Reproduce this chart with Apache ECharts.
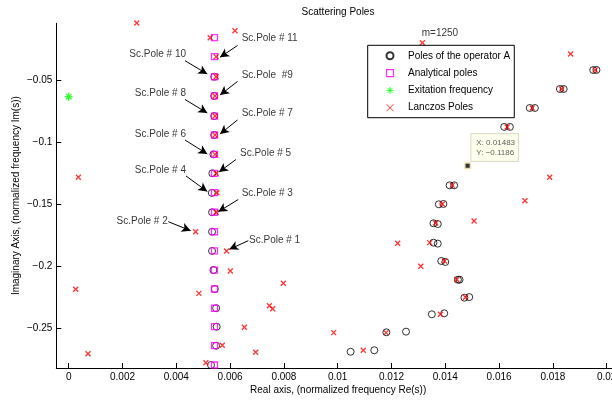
<!DOCTYPE html>
<html><head><meta charset="utf-8">
<script src="https://cdn.jsdelivr.net/npm/echarts@6/dist/echarts.min.js"></script>
<style>html,body{margin:0;padding:0;background:#fff}#c{width:612px;height:400px}</style>
</head><body><div id="c"></div>
<script>
const FONT = '"Liberation Sans", Arial, Helvetica, sans-serif';

// axis ticks
const xTicks = [0, 0.002, 0.004, 0.006, 0.008, 0.01, 0.012, 0.014, 0.016, 0.018, 0.02];
const yTicks = [-0.25, -0.2, -0.15, -0.1, -0.05];

// Poles of the operator A (black circles)
const poleAX = [0.00541, 0.00541, 0.00541, 0.00541, 0.00538, 0.00534, 0.00532, 0.00533, 0.00533, 0.00533, 0.00538, 0.00543, 0.00548, 0.00550, 0.00548, 0.00529,
  0.01950, 0.01962, 0.01826, 0.01840, 0.01714, 0.01733, 0.01619, 0.01640, 0.01416, 0.01433, 0.01376, 0.01393, 0.01356, 0.01372, 0.01356, 0.01372,
  0.01385, 0.01400, 0.01447, 0.01453, 0.01471, 0.01489, 0.01350, 0.01396, 0.01181, 0.01254, 0.01048, 0.01136];
const poleAY = [-0.0468, -0.0623, -0.0785, -0.0938, -0.1094, -0.1247, -0.1405, -0.1561, -0.1718, -0.1873, -0.2027, -0.2180, -0.2335, -0.2484, -0.2637, -0.2793,
  -0.0414, -0.0413, -0.0567, -0.0567, -0.0720, -0.0720, -0.0873, -0.0873, -0.1344, -0.1344, -0.1497, -0.1494, -0.1650, -0.1656, -0.1806, -0.1814,
  -0.1954, -0.1962, -0.2105, -0.2105, -0.2250, -0.2245, -0.2384, -0.2376, -0.2529, -0.2524, -0.2686, -0.2674];

// Analytical poles (magenta squares)
const analX = [0.00542, 0.00542, 0.00542, 0.00542, 0.00542, 0.00542, 0.00542, 0.00542, 0.00542, 0.00542, 0.00542, 0.00542, 0.00542, 0.00542, 0.00542, 0.00542, 0.00542, 0.00542];
const analY = [-0.0153, -0.0306, -0.0468, -0.0623, -0.0785, -0.0938, -0.1094, -0.1247, -0.1403, -0.1561, -0.1718, -0.1873, -0.2027, -0.2180, -0.2335, -0.2484, -0.2637, -0.2793];

// Excitation frequency
const excX = [0];
const excY = [-0.0629];

// Lanczos poles (red x)
const lanX = [0.00253, 0.00618, 0.00526, 0.01315, 0.00548, 0.00548, 0.00544, 0.00544, 0.00544, 0.00544, 0.00548, 0.00551, 0.00548,
  0.00472, 0.00587, 0.00601, 0.00026, 0.00484, 0.00798, 0.00746, 0.00758, 0.00653, 0.00571, 0.00695, 0.00072, 0.00510, 0.00036,
  0.01866, 0.01957, 0.01833, 0.01723, 0.01630, 0.01788, 0.01696, 0.01507, 0.01426, 0.01389, 0.01364, 0.01223, 0.01342, 0.01309,
  0.01397, 0.01443, 0.01475, 0.01382, 0.00985, 0.01180, 0.01095];
const lanY = [-0.0035, -0.0097, -0.0153, -0.0194, -0.0306, -0.0468, -0.0623, -0.0785, -0.0938, -0.1094, -0.1247, -0.1403, -0.1561,
  -0.1718, -0.1873, -0.2035, -0.2182, -0.2215, -0.2134, -0.2315, -0.2339, -0.2489, -0.2634, -0.2690, -0.2702, -0.2774, -0.1279,
  -0.0285, -0.0414, -0.0567, -0.0720, -0.0873, -0.1279, -0.1468, -0.1631, -0.1344, -0.1494, -0.1647, -0.1811, -0.1806, -0.1997,
  -0.1954, -0.2103, -0.2247, -0.2383, -0.2532, -0.2532, -0.2674];

// data tip
const tipX = [0.01483];
const tipY = [-0.1186];

// annotations (data units)
const annText = ['Sc.Pole # 11', 'Sc.Pole # 10', 'Sc.Pole  #9', 'Sc.Pole # 8', 'Sc.Pole # 7', 'Sc.Pole # 6', 'Sc.Pole # 5', 'Sc.Pole # 4', 'Sc.Pole # 3', 'Sc.Pole # 2', 'Sc.Pole # 1', 'm=1250'];
const annX = [0.006431, 0.004361, 0.006431, 0.004361, 0.006431, 0.004361, 0.006368, 0.004361, 0.006431, 0.00368, 0.006703, 0.0138];
const annY = [-0.01613, -0.02871, -0.04565, -0.06016, -0.07629, -0.09323, -0.10855, -0.12202, -0.14056, -0.16315, -0.17847, -0.01153];
const annPos = ['right', 'left', 'right', 'left', 'right', 'left', 'right', 'left', 'right', 'left', 'right', 'inside'];
const tailX = [0.006275, 0.004323, 0.006275, 0.004323, 0.006275, 0.004323, 0.006219, 0.004361, 0.006305, 0.003703, 0.006677];
const tailY = [-0.02161, -0.03387, -0.05065, -0.06516, -0.08169, -0.09782, -0.11355, -0.12685, -0.1458, -0.16371, -0.17903];
const headX = [0.005625, 0.005152, 0.005625, 0.005152, 0.005625, 0.005152, 0.005587, 0.005152, 0.005561, 0.004535, 0.00597];
const headY = [-0.03113, -0.0446, -0.06153, -0.07605, -0.09298, -0.10911, -0.12363, -0.13935, -0.15565, -0.17097, -0.18597];

const zip = (a, b) => a.map((v, i) => [v, b[i]]);
const fmtNum = v => String(+v.toFixed(6)).replace('-', '\u2212');

const SYM_AST = 'path://M0,5L10,5M5,0L5,10M1.5,1.5L8.5,8.5M1.5,8.5L8.5,1.5';
const SYM_X = 'path://M0,0L10,10M0,10L10,0';

const chart = echarts.init(document.getElementById('c'), null, {renderer: 'canvas'});
chart.setOption({
  animation: false,
  backgroundColor: '#fff',
  textStyle: {fontFamily: FONT},
  grid: {left: 56.3, top: 23.3, right: 0, bottom: 32, containLabel: false, outerBoundsMode: 'none'},
  graphic: [
    {type: 'text', x: 338, y: 12, style: {text: 'Scattering Poles', fill: '#000', font: '10px ' + FONT, textAlign: 'center', textVerticalAlign: 'middle'}}
  ],
  legend: {
    orient: 'vertical', left: 367.7, top: 45.3,
    padding: [5.5, 4, 5, 17.8], itemWidth: 7, itemHeight: 7, itemGap: 7.3,
    borderColor: '#000', borderWidth: 1, backgroundColor: '#fff',
    textStyle: {fontFamily: FONT, fontSize: 10, color: '#000', padding: [0, 0, 0, 9.5]},
    selectedMode: false,
    data: [
      {name: 'Poles of the operator A'},
      {name: 'Analytical poles', itemStyle: {borderWidth: 1.2}},
      {name: 'Exitation frequency', itemStyle: {borderWidth: 1}},
      {name: 'Lanczos Poles', itemStyle: {borderWidth: 1}}
    ]
  },
  xAxis: {
    type: 'value', min: -0.000461, max: 0.020197,
    name: 'Real axis, (normalized frequency Re(s))', nameLocation: 'middle', nameGap: 17, nameMoveOverlap: false,
    nameTextStyle: {fontFamily: FONT, fontSize: 10, color: '#000', padding: [0, 0, 0, 8]},
    axisLine: {show: true, onZero: false, lineStyle: {color: '#000', width: 1}},
    axisTick: {show: true, inside: true, length: 5, customValues: xTicks, lineStyle: {color: '#000'}},
    axisLabel: {customValues: xTicks, formatter: fmtNum, fontFamily: FONT, fontSize: 10, color: '#000', margin: 4, hideOverlap: false},
    splitLine: {show: false}
  },
  yAxis: {
    type: 'value', min: -0.2817, max: -0.00371,
    name: 'Imaginary Axis, (normalized frequency Im(s))', nameLocation: 'middle', nameGap: 35, nameMoveOverlap: false,
    nameTextStyle: {fontFamily: FONT, fontSize: 10, color: '#000'},
    axisLine: {show: true, onZero: false, lineStyle: {color: '#000', width: 1}},
    axisTick: {show: true, inside: true, length: 5, customValues: yTicks, lineStyle: {color: '#000'}},
    axisLabel: {customValues: yTicks, formatter: fmtNum, fontFamily: FONT, fontSize: 10, color: '#000', margin: 4},
    splitLine: {show: false}
  },
  series: [
    {
      name: 'Poles of the operator A', type: 'scatter', clip: false, data: zip(poleAX, poleAY),
      symbol: 'circle', symbolSize: 7,
      itemStyle: {color: 'rgba(255,255,255,0)', borderColor: '#000', borderWidth: 1}, emphasis: {disabled: true}
    },
    {
      name: 'Analytical poles', type: 'scatter', clip: false, data: zip(analX, analY),
      symbol: 'rect', symbolSize: 6,
      itemStyle: {color: 'rgba(255,255,255,0)', borderColor: '#ff00ff', borderWidth: 1.3}, emphasis: {disabled: true}
    },
    {
      name: 'Exitation frequency', type: 'scatter', clip: false, data: zip(excX, excY),
      symbol: SYM_AST, symbolSize: 8,
      itemStyle: {color: 'rgba(255,255,255,0)', borderColor: '#00ff00', borderWidth: 1.3}, emphasis: {disabled: true}
    },
    {
      name: 'Lanczos Poles', type: 'scatter', clip: false, data: zip(lanX, lanY),
      symbol: SYM_X, symbolSize: 5,
      itemStyle: {color: 'rgba(255,255,255,0)', borderColor: '#ff0000', borderWidth: 1.3}, emphasis: {disabled: true}
    },
    {
      name: 'tip', type: 'scatter', clip: false, data: zip(tipX, tipY), z: 5,
      symbol: 'rect', symbolSize: 6,
      itemStyle: {color: '#000', borderColor: '#fff8c8', borderWidth: 2}, emphasis: {disabled: true},
      label: {
        show: true, position: [7.7, -27.7], align: 'left', verticalAlign: 'top',
        formatter: p => 'X: ' + fmtNum(p.value[0]) + '\nY: ' + fmtNum(p.value[1]),
        fontFamily: FONT, fontSize: 8, lineHeight: 9.5, color: '#333',
        backgroundColor: '#ffffe8', borderColor: '#d4d4c0', borderWidth: 1, padding: [4, 3, 4, 5]
      }
    },
    {
      name: 'annotations', type: 'scatter', clip: false, symbolSize: 0, z: 6,
      data: annText.map((t, i) => ({value: [annX[i], annY[i]], name: t, label: {position: annPos[i]}})),
      label: {show: true, formatter: p => p.name, distance: 0, fontFamily: FONT, fontSize: 10, color: '#000'},
      emphasis: {disabled: true},
      markLine: {
        silent: true, animation: false,
        symbol: ['none', 'arrow'], symbolSize: [7, 9],
        lineStyle: {color: '#000', width: 1, type: 'solid'},
        label: {show: false},
        emphasis: {disabled: true},
        data: tailX.map((v, i) => [{coord: [v, tailY[i]]}, {coord: [headX[i], headY[i]]}])
      }
    }
  ]
});
</script></body></html>
